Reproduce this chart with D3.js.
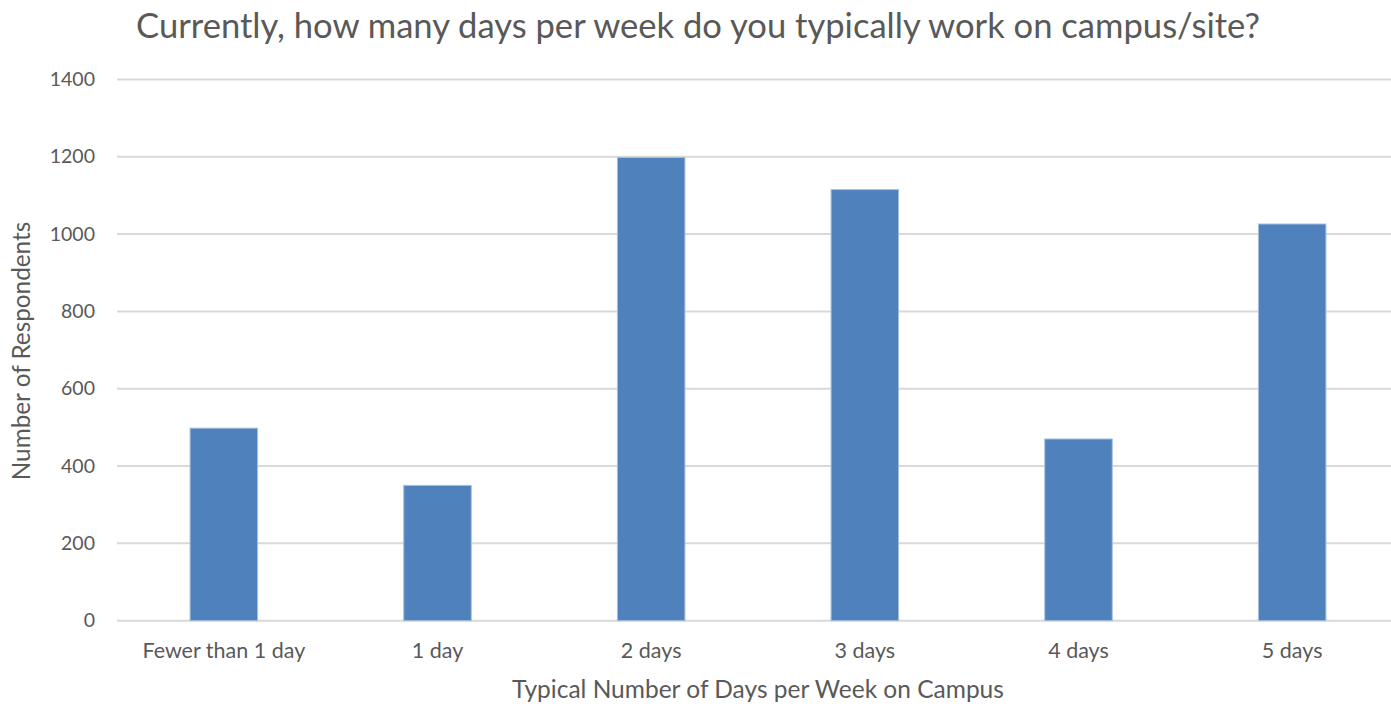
<!DOCTYPE html>
<html>
<head>
<meta charset="utf-8">
<script src="https://cdn.jsdelivr.net/npm/d3@7"></script>
<style>
  body { margin: 0; background: #fff; }
  svg text { font-family: Lato, "Open Sans", sans-serif; fill: #595959; }
</style>
</head>
<body>
<svg id="chart" width="1391" height="704"></svg>
<script>
// 数据
const categories = ["Fewer than 1 day", "1 day", "2 days", "3 days", "4 days", "5 days"];
const respondents = [498, 350, 1198, 1115, 470, 1026];
const yTicks = [0, 200, 400, 600, 800, 1000, 1200, 1400];

const titleText = "Currently, how many days per week do you typically work on campus/site?";
const xTitle = "Typical Number of Days per Week on Campus";
const yTitle = "Number of Respondents";

const svg = d3.select("#chart");

// 绘图区域
const plot = { left: 117, right: 1399, top: 79.4, bottom: 620.7 };

const x = d3.scaleBand()
    .domain(categories)
    .range([plot.left, plot.right])
    .paddingInner(0.684)
    .paddingOuter(0.342);

const y = d3.scaleLinear()
    .domain([0, 1400])
    .range([plot.bottom, plot.top]);

// 网格线
svg.append("g")
    .selectAll("line")
    .data(yTicks)
    .join("line")
    .attr("x1", plot.left)
    .attr("x2", plot.right)
    .attr("y1", d => y(d))
    .attr("y2", d => y(d))
    .style("stroke", "#d9d9d9")
    .style("stroke-width", 2);

// y轴刻度
const yAxis = d3.axisLeft(y)
    .tickValues(yTicks)
    .tickFormat(d3.format("d"))
    .tickSize(0)
    .tickPadding(22);
const yG = svg.append("g")
    .attr("transform", `translate(${plot.left},0)`)
    .call(yAxis);
yG.select(".domain").remove();
yG.selectAll("text")
    .style("font-size", "19.5px")
    .style("fill", "#595959");

// 柱子
svg.append("g")
    .selectAll("rect")
    .data(respondents)
    .join("rect")
    .attr("x", (d, i) => x(categories[i]))
    .attr("y", d => y(d))
    .attr("width", x.bandwidth())
    .attr("height", d => y(0) - y(d))
    .style("fill", "#4f81bd")
    .style("stroke", "#a7c0de")
    .style("stroke-width", 1);

// x轴
const xAxis = d3.axisBottom(x).tickSize(0).tickPadding(22);
const xG = svg.append("g")
    .attr("transform", `translate(0,${plot.bottom})`)
    .call(xAxis);
xG.select(".domain").remove();
xG.selectAll("text")
    .style("font-size", "21.5px")
    .style("fill", "#595959");

// 标题
svg.append("text")
    .attr("x", 698)
    .attr("y", 38)
    .attr("text-anchor", "middle")
    .style("font-size", "34.6px")
    .text(titleText);

svg.append("text")
    .attr("x", 758)
    .attr("y", 698)
    .attr("text-anchor", "middle")
    .style("font-size", "24.5px")
    .text(xTitle);

svg.append("text")
    .attr("transform", "translate(30,351) rotate(-90)")
    .attr("text-anchor", "middle")
    .style("font-size", "24.3px")
    .text(yTitle);
</script>
</body>
</html>
